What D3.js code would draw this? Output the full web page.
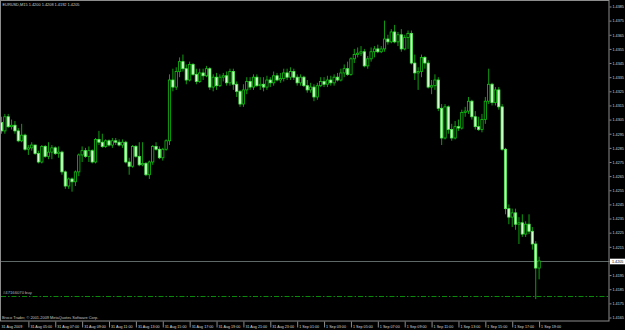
<!DOCTYPE html>
<html>
<head>
<meta charset="utf-8">
<script src="https://cdn.jsdelivr.net/npm/d3@7"></script>
<style>
html, body { margin: 0; padding: 0; background: #000; overflow: hidden; }
text { font-family: "Liberation Sans", Arial, sans-serif; }
</style>
</head>
<body>
<svg id="chart" width="625" height="330"></svg>
<script>
// EURUSD 15 minute bars, 31 Aug 2009 03:00 .. 1 Sep 2009 19:00
var symbol = 'EURUSD,M15';
var firstBar = '2009-08-31 03:00';
var copyright = 'Broco Trader, \u00a9 2001-2009 MetaQuotes Software Corp.';
var orderLabel = '#47166070 buy';
var orderPrice = 1.4180;

var opens = [
    1.4303, 1.4297, 1.4307, 1.4300, 1.4301, 1.4297, 1.4290, 1.4294, 1.4284, 1.4285,
    1.4287, 1.4281, 1.4275, 1.4286, 1.4279, 1.4282, 1.4285, 1.4281, 1.4282, 1.4268,
    1.4258, 1.4263, 1.4261, 1.4268, 1.4280, 1.4283, 1.4279, 1.4283, 1.4275, 1.4291,
    1.4289, 1.4286, 1.4290, 1.4287, 1.4290, 1.4289, 1.4287, 1.4289, 1.4275, 1.4272,
    1.4286, 1.4279, 1.4273, 1.4274, 1.4266, 1.4275, 1.4286, 1.4284, 1.4278, 1.4284,
    1.4290, 1.4333, 1.4328, 1.4339, 1.4346, 1.4341, 1.4333, 1.4344, 1.4337, 1.4332,
    1.4338, 1.4336, 1.4341, 1.4328, 1.4335, 1.4329, 1.4335, 1.4336, 1.4331, 1.4339,
    1.4330, 1.4325, 1.4316, 1.4326, 1.4332, 1.4328, 1.4335, 1.4329, 1.4330, 1.4328,
    1.4333, 1.4331, 1.4336, 1.4333, 1.4334, 1.4338, 1.4335, 1.4339, 1.4335, 1.4331,
    1.4335, 1.4329, 1.4326, 1.4328, 1.4321, 1.4329, 1.4332, 1.4330, 1.4333, 1.4331,
    1.4335, 1.4333, 1.4338, 1.4341, 1.4337, 1.4348, 1.4351, 1.4352, 1.4353, 1.4343,
    1.4348, 1.4353, 1.4355, 1.4353, 1.4355, 1.4362, 1.4360, 1.4367, 1.4360, 1.4365,
    1.4355, 1.4363, 1.4366, 1.4345, 1.4338, 1.4339, 1.4349, 1.4345, 1.4328, 1.4329,
    1.4333, 1.4313, 1.4292, 1.4314, 1.4298, 1.4292, 1.4300, 1.4299, 1.4310, 1.4311,
    1.4318, 1.4307, 1.4300, 1.4298, 1.4305, 1.4318, 1.4330, 1.4317, 1.4326, 1.4314,
    1.4284, 1.4242, 1.4236, 1.4239, 1.4231, 1.4232, 1.4224, 1.4231, 1.4226, 1.4217,
    1.4200
];
var highs = [
    1.4307, 1.4309, 1.4309, 1.4305, 1.4304, 1.4299, 1.4302, 1.4295, 1.4287, 1.4289,
    1.4287, 1.4283, 1.4287, 1.4287, 1.4289, 1.4287, 1.4286, 1.4286, 1.4283, 1.4269,
    1.4264, 1.4264, 1.4269, 1.4281, 1.4286, 1.4285, 1.4286, 1.4284, 1.4292, 1.4297,
    1.4295, 1.4291, 1.4291, 1.4292, 1.4292, 1.4291, 1.4291, 1.4290, 1.4278, 1.4287,
    1.4287, 1.4289, 1.4289, 1.4275, 1.4276, 1.4287, 1.4289, 1.4286, 1.4285, 1.4291,
    1.4337, 1.4341, 1.4342, 1.4349, 1.4351, 1.4344, 1.4346, 1.4345, 1.4341, 1.4341,
    1.4341, 1.4343, 1.4342, 1.4337, 1.4338, 1.4337, 1.4338, 1.4339, 1.4341, 1.4341,
    1.4332, 1.4326, 1.4330, 1.4335, 1.4335, 1.4337, 1.4337, 1.4335, 1.4335, 1.4336,
    1.4335, 1.4339, 1.4338, 1.4338, 1.4341, 1.4341, 1.4342, 1.4341, 1.4337, 1.4337,
    1.4336, 1.4333, 1.4331, 1.4330, 1.4331, 1.4335, 1.4335, 1.4336, 1.4336, 1.4337,
    1.4338, 1.4341, 1.4344, 1.4346, 1.4349, 1.4355, 1.4356, 1.4357, 1.4355, 1.4350,
    1.4356, 1.4357, 1.4358, 1.4357, 1.4375, 1.4365, 1.4369, 1.4372, 1.4367, 1.4369,
    1.4365, 1.4368, 1.4368, 1.4351, 1.4342, 1.4351, 1.4350, 1.4347, 1.4333, 1.4337,
    1.4335, 1.4316, 1.4316, 1.4315, 1.4302, 1.4304, 1.4305, 1.4312, 1.4314, 1.4321,
    1.4319, 1.4311, 1.4307, 1.4309, 1.4321, 1.4341, 1.4331, 1.4328, 1.4328, 1.4316,
    1.4285, 1.4245, 1.4242, 1.4242, 1.4236, 1.4238, 1.4233, 1.4238, 1.4229, 1.4219,
    1.4208
];
var lows = [
    1.4295, 1.4295, 1.4299, 1.4298, 1.4295, 1.4289, 1.4289, 1.4283, 1.4280, 1.4283,
    1.4280, 1.4274, 1.4274, 1.4278, 1.4277, 1.4277, 1.4280, 1.4278, 1.4266, 1.4256,
    1.4256, 1.4254, 1.4258, 1.4265, 1.4275, 1.4278, 1.4275, 1.4274, 1.4274, 1.4287,
    1.4285, 1.4285, 1.4286, 1.4285, 1.4287, 1.4286, 1.4285, 1.4274, 1.4266, 1.4271,
    1.4278, 1.4272, 1.4272, 1.4265, 1.4263, 1.4273, 1.4283, 1.4277, 1.4276, 1.4283,
    1.4287, 1.4325, 1.4326, 1.4335, 1.4339, 1.4330, 1.4332, 1.4336, 1.4330, 1.4331,
    1.4333, 1.4335, 1.4326, 1.4325, 1.4326, 1.4328, 1.4332, 1.4329, 1.4329, 1.4326,
    1.4321, 1.4314, 1.4314, 1.4323, 1.4326, 1.4326, 1.4328, 1.4326, 1.4325, 1.4326,
    1.4328, 1.4329, 1.4332, 1.4331, 1.4332, 1.4333, 1.4333, 1.4333, 1.4329, 1.4329,
    1.4328, 1.4324, 1.4324, 1.4318, 1.4319, 1.4328, 1.4328, 1.4328, 1.4329, 1.4329,
    1.4332, 1.4332, 1.4335, 1.4336, 1.4336, 1.4345, 1.4349, 1.4350, 1.4342, 1.4341,
    1.4346, 1.4349, 1.4352, 1.4352, 1.4353, 1.4358, 1.4359, 1.4359, 1.4357, 1.4353,
    1.4354, 1.4355, 1.4344, 1.4333, 1.4326, 1.4335, 1.4341, 1.4327, 1.4323, 1.4326,
    1.4311, 1.4287, 1.4291, 1.4295, 1.4290, 1.4291, 1.4297, 1.4298, 1.4307, 1.4309,
    1.4305, 1.4298, 1.4297, 1.4296, 1.4302, 1.4316, 1.4315, 1.4315, 1.4312, 1.4283,
    1.4238, 1.4231, 1.4229, 1.4227, 1.4217, 1.4222, 1.4222, 1.4224, 1.4213, 1.4178,
    1.4192
];
var closes = [
    1.4297, 1.4307, 1.4300, 1.4301, 1.4297, 1.4290, 1.4294, 1.4284, 1.4285, 1.4287,
    1.4281, 1.4275, 1.4286, 1.4279, 1.4282, 1.4285, 1.4281, 1.4282, 1.4268, 1.4258,
    1.4263, 1.4261, 1.4268, 1.4280, 1.4283, 1.4279, 1.4283, 1.4275, 1.4291, 1.4289,
    1.4286, 1.4290, 1.4287, 1.4290, 1.4289, 1.4287, 1.4289, 1.4275, 1.4272, 1.4286,
    1.4279, 1.4273, 1.4274, 1.4266, 1.4275, 1.4286, 1.4284, 1.4278, 1.4284, 1.4290,
    1.4333, 1.4328, 1.4339, 1.4346, 1.4341, 1.4333, 1.4344, 1.4337, 1.4332, 1.4338,
    1.4336, 1.4341, 1.4328, 1.4335, 1.4329, 1.4335, 1.4336, 1.4331, 1.4339, 1.4330,
    1.4325, 1.4316, 1.4326, 1.4332, 1.4328, 1.4335, 1.4329, 1.4330, 1.4328, 1.4333,
    1.4331, 1.4336, 1.4333, 1.4334, 1.4338, 1.4335, 1.4339, 1.4335, 1.4331, 1.4335,
    1.4329, 1.4326, 1.4328, 1.4321, 1.4329, 1.4332, 1.4330, 1.4333, 1.4331, 1.4335,
    1.4333, 1.4338, 1.4341, 1.4337, 1.4348, 1.4351, 1.4352, 1.4353, 1.4343, 1.4348,
    1.4353, 1.4355, 1.4353, 1.4355, 1.4362, 1.4360, 1.4367, 1.4360, 1.4365, 1.4355,
    1.4363, 1.4366, 1.4345, 1.4338, 1.4339, 1.4349, 1.4345, 1.4328, 1.4329, 1.4333,
    1.4313, 1.4292, 1.4314, 1.4298, 1.4292, 1.4300, 1.4299, 1.4310, 1.4311, 1.4318,
    1.4307, 1.4300, 1.4298, 1.4305, 1.4318, 1.4330, 1.4317, 1.4326, 1.4314, 1.4284,
    1.4242, 1.4236, 1.4239, 1.4231, 1.4232, 1.4224, 1.4231, 1.4226, 1.4217, 1.4200,
    1.4205
];

// price scale labels
var priceTicks = [1.4385, 1.4375, 1.4365, 1.4355, 1.4345, 1.4335, 1.4325, 1.4315,
    1.4305, 1.4295, 1.4285, 1.4275, 1.4265, 1.4255, 1.4245, 1.4235, 1.4225,
    1.4215, 1.4205, 1.4195, 1.4185, 1.4175, 1.4165];

// time scale labels (every 2 hours)
var timeTicks = ['2009-08-31 05:00', '2009-08-31 07:00', '2009-08-31 09:00',
    '2009-08-31 11:00', '2009-08-31 13:00', '2009-08-31 15:00', '2009-08-31 17:00',
    '2009-08-31 19:00', '2009-08-31 21:00', '2009-08-31 23:00', '2009-09-01 01:00',
    '2009-09-01 03:00', '2009-09-01 05:00', '2009-09-01 07:00', '2009-09-01 09:00',
    '2009-09-01 11:00', '2009-09-01 13:00', '2009-09-01 15:00', '2009-09-01 17:00',
    '2009-09-01 19:00'];

var W = 625, H = 330;
var plot = { left: 1, top: 1, right: 609, bottom: 321 };
var gray = '#8c8c8c';
var fs = 0.37; //text is drawn at 10px and scaled down (tiny screen font)

var parse = d3.timeParse('%Y-%m-%d %H:%M');
var t0 = parse(firstBar);
var bars = closes.map(function (c, i) {
    return {
        t: d3.timeMinute.offset(t0, 15 * i),
        o: opens[i], h: highs[i], l: lows[i], c: c
    };
});
var last = bars[bars.length - 1];

var x = d3.scaleTime()
    .domain([t0, last.t])
    .range([1.5, 539.1]);
var y = d3.scaleLinear()
    .domain([1.4165, 1.4385])
    .range([317.5, 6.5]);

function label(parent, px, py, str, fill, s) {
    return parent.append('text')
        .attr('transform', 'translate(' + px + ',' + py + ') scale(' + (s || fs) + ')')
        .attr('font-size', 10)
        .attr('fill', fill)
        .text(str);
}

var svg = d3.select('#chart');
svg.append('rect').attr('width', W).attr('height', H).attr('fill', '#000');

svg.append('defs').append('clipPath').attr('id', 'plotClip')
    .append('rect')
    .attr('x', plot.left).attr('y', plot.top)
    .attr('width', plot.right - plot.left).attr('height', plot.bottom - plot.top);

var g = svg.append('g').attr('clip-path', 'url(#plotClip)');

// current bid line
var bidY = Math.round(y(last.c)) + 0.5;
g.append('line')
    .attr('x1', plot.left).attr('x2', plot.right)
    .attr('y1', bidY).attr('y2', bidY)
    .attr('stroke', '#5e6866').attr('stroke-width', 1);

// open order line
var ordY = Math.round(y(orderPrice)) + 0.5;
g.append('line')
    .attr('x1', plot.left).attr('x2', plot.right)
    .attr('y1', ordY).attr('y2', ordY)
    .attr('stroke', '#0a8a0a').attr('stroke-width', 1)
    .attr('stroke-dasharray', '5,2,1.5,2');
label(g, 3, ordY - 3, orderLabel, '#b4b4b4', 0.42);

// candles
var bw = 2.3;
var candle = g.selectAll('.bar').data(bars).enter().append('g').attr('class', 'bar');
candle.append('line')
    .attr('x1', function (d) { return x(d.t); })
    .attr('x2', function (d) { return x(d.t); })
    .attr('y1', function (d) { return y(d.h); })
    .attr('y2', function (d) { return y(d.l); })
    .attr('stroke', '#12b012').attr('stroke-width', 0.9);
candle.append('rect')
    .attr('x', function (d) { return x(d.t) - bw / 2; })
    .attr('y', function (d) { return y(Math.max(d.o, d.c)); })
    .attr('width', bw)
    .attr('height', function (d) { return Math.max(0.8, Math.abs(y(d.o) - y(d.c))); })
    .attr('fill', function (d) { return d.c < d.o ? '#d4ffd0' : '#000'; })
    .attr('stroke', function (d) { return d.c < d.o ? '#50e850' : '#14c014'; })
    .attr('stroke-width', 0.8);

// frame
svg.append('rect')
    .attr('x', 0.5).attr('y', 0.5)
    .attr('width', plot.right - 0.5).attr('height', plot.bottom - 0.5)
    .attr('fill', 'none').attr('stroke', gray).attr('stroke-width', 1);

// price axis
var yAxis = d3.axisRight(y)
    .tickValues(priceTicks)
    .tickFormat(d3.format('.4f'))
    .tickSize(2);
var ya = svg.append('g').attr('transform', 'translate(' + (plot.right + 0.5) + ',0)').call(yAxis);
ya.select('.domain').remove();
ya.selectAll('line').attr('stroke', gray);
ya.selectAll('text')
    .attr('x', null).attr('dy', null)
    .attr('font-size', 10).attr('fill', '#d8d8d8')
    .attr('font-family', '"Liberation Sans", Arial, sans-serif')
    .attr('transform', 'translate(3,1.3) scale(' + fs + ')');

// bid price box
svg.append('rect')
    .attr('x', plot.right + 1).attr('y', bidY - 2.8)
    .attr('width', W - plot.right - 1).attr('height', 5.6)
    .attr('fill', '#fff');
label(svg, plot.right + 3, bidY + 1.4, d3.format('.4f')(last.c), '#000');

// time axis
var fmtTime = d3.timeFormat('%-d %b %H:%M');
var xAxis = d3.axisBottom(x)
    .tickValues(timeTicks.map(parse))
    .tickFormat(fmtTime)
    .tickSize(6);
var xa = svg.append('g').attr('transform', 'translate(0,' + (plot.bottom + 0.5) + ')').call(xAxis);
xa.select('.domain').remove();
xa.selectAll('line').attr('stroke', gray);
xa.selectAll('text')
    .attr('y', null).attr('dy', null)
    .attr('text-anchor', 'start')
    .attr('font-size', 10).attr('fill', '#d8d8d8')
    .attr('font-family', '"Liberation Sans", Arial, sans-serif')
    .attr('transform', 'translate(1.5,6.6) scale(' + fs + ')');
label(svg, 1.5, plot.bottom + 7.1, d3.timeFormat('%-d %b %Y')(t0), '#d8d8d8');

// header & footer
label(svg, 2.5, 6.4, symbol + '  ' + [last.o, last.h, last.l, last.c]
    .map(d3.format('.4f')).join(' '), '#d0d0d0', 0.39);
label(svg, 2, 319.3, copyright, '#c4c4c4', 0.39);
</script>
</body>
</html>
